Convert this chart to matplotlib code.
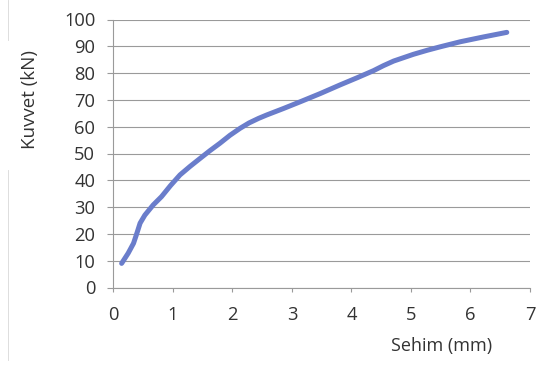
import matplotlib
matplotlib.use("Agg")
import matplotlib.pyplot as plt
from matplotlib.lines import Line2D

deflection_mm = [0.14, 0.25, 0.34, 0.40, 0.45, 0.53, 0.67, 0.81, 0.96, 1.12, 1.29, 1.46,
                 1.62, 1.79, 1.96, 2.13, 2.28, 2.44, 2.58, 2.86, 3.14, 3.48, 3.81,
                 4.10, 4.37, 4.54, 4.71, 5.04, 5.27, 5.49, 5.83, 6.22, 6.61]
force_kN = [9.0, 12.8, 16.5, 20.5, 24.0, 27.0, 30.8, 33.9, 38.0, 42.0, 45.2, 48.2,
            51.0, 53.8, 56.8, 59.4, 61.4, 63.1, 64.4, 66.8, 69.3, 72.4, 75.6,
            78.3, 80.9, 82.8, 84.5, 87.0, 88.5, 89.8, 91.7, 93.5, 95.2]
x_ticks = [0, 1, 2, 3, 4, 5, 6, 7]
y_ticks = [0, 10, 20, 30, 40, 50, 60, 70, 80, 90, 100]

plt.rcParams['font.family'] = ['Open Sans', 'DejaVu Sans']

fig = plt.figure(figsize=(5.44, 3.69), dpi=100)
ax = fig.add_axes([113.3/544, (369-287.5)/369, (530-113.3)/544, (287.5-19.5)/369])

ax.plot(deflection_mm, force_kN, color='#6a7dcb', lw=3.6, solid_capstyle='round',
        solid_joinstyle='round', zorder=3)

ax.set_xlim(0, 7)
ax.set_ylim(0, 100)
ax.set_xticks(x_ticks)
ax.set_yticks(y_ticks)
ax.yaxis.grid(True, color='#9a9a9a', lw=0.8)
ax.set_axisbelow(True)
for s in ['top', 'right']:
    ax.spines[s].set_visible(False)
for s in ['left', 'bottom']:
    ax.spines[s].set_color('#9a9a9a')
    ax.spines[s].set_linewidth(0.8)
ax.tick_params(axis='y', length=4.5, width=0.8, color='#9a9a9a', pad=8.5,
               labelsize=13.2, labelcolor='#333333')
ax.tick_params(axis='x', length=3, width=0.8, color='#9a9a9a', pad=10.5,
               labelsize=13.2, labelcolor='#333333')

fig.text(30/544, 1 - 100/369, 'Kuvvet (kN)', rotation=90, ha='center', va='center',
         fontsize=13.5, color='#333333')
fig.text(442/544, 1 - 346/369, 'Sehim (mm)', ha='center', va='center',
         fontsize=13, color='#333333')

fig.add_artist(Line2D([8/544, 8/544], [1, 1 - 40/369], color='#d8d8d8', lw=0.6,
                      transform=fig.transFigure))
fig.add_artist(Line2D([8/544, 8/544], [1 - 170/369, 1 - 360/369], color='#d8d8d8', lw=0.6,
                      transform=fig.transFigure))

fig.savefig('out.png', dpi=100)
